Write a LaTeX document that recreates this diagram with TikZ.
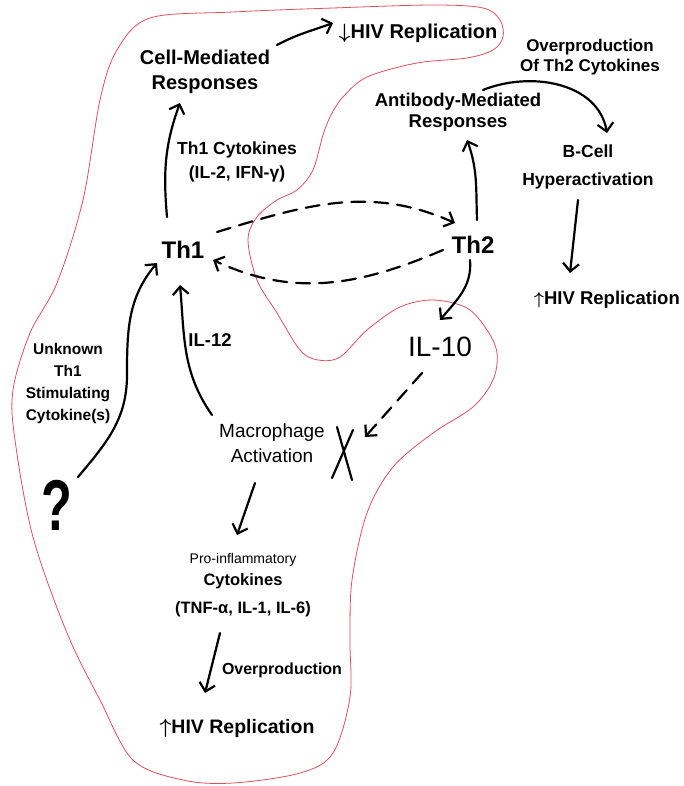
\documentclass[tikz,border=0pt]{standalone}
\usepackage{amsmath}
\usepackage{fontspec}
\setmainfont{Liberation Sans}
\usetikzlibrary{arrows.meta}
\definecolor{outline red}{RGB}{222,80,92}
\tikzstyle{arrow} = [line width=2.2pt,-{Straight Barb[length=8pt,width=16pt]},line cap=round]
\tikzstyle{dasharrow} = [arrow, dash pattern=on 14pt off 9pt]
\tikzstyle{stroke} = [line width=2.2pt,line cap=round]
\tikzstyle{txt} = [inner sep=0pt, align=center]
\newcommand{\up}{$\boldsymbol{\uparrow}$}
\newcommand{\down}{$\boldsymbol{\downarrow}$}

\begin{document}
\begin{tikzpicture}[x=1pt,y=1pt]
\useasboundingbox (0,0) rectangle (683,-786);

% red region
\draw [outline red, line width=0.8pt] plot [smooth cycle, tension=0.55] coordinates {
  (150,-18) (233,-12) (333,-8) (433,-5) (483,-8) (500,-20) (503,-37) (493,-50)
  (467,-58) (417,-63) (367,-77) (343,-97) (331,-115) (323,-135) (313,-170) (297,-190)
  (277,-200) (257,-217) (248,-240) (257,-280) (277,-313) (300,-350) (318,-360) (340,-357)
  (367,-330) (400,-307) (433,-300) (467,-308) (487,-330) (497,-353) (493,-380) (473,-407)
  (433,-433) (393,-467) (367,-513) (352,-580) (350,-640) (350,-697) (333,-753) (300,-773)
  (233,-783) (183,-780) (133,-760) (100,-700) (67,-633) (33,-537) (15,-440) (13,-390)
  (30,-333) (57,-283) (83,-200) (100,-100) (117,-50)};

\node (cell mediated) [txt, font=\bfseries\fontsize{20}{25}\selectfont] at (205,-72) {Cell-Mediated\\Responses};
\node (hiv down) [txt, font=\bfseries\fontsize{20}{24}\selectfont] at (418,-33) {\down HIV Replication};
\node (antibody) [txt, font=\bfseries\fontsize{18.5}{21}\selectfont] at (458,-112) {Antibody-Mediated\\Responses};
\node (overproduction th2) [txt, font=\bfseries\fontsize{17}{20}\selectfont] at (590,-57) {Overproduction\\Of Th2 Cytokines};
\node (b cell) [txt, font=\bfseries\fontsize{17.5}{28}\selectfont] at (588,-167) {B-Cell\\Hyperactivation};
\node (hiv up right) [txt, font=\bfseries\fontsize{18.5}{22}\selectfont] at (607,-300) {\up HIV Replication};
\node (th1 cytokines) [txt, font=\bfseries\fontsize{17.5}{24}\selectfont] at (237,-162) {Th1 Cytokines\\(IL-2, IFN-γ)};
\node (th1) [txt, font=\bfseries\fontsize{24}{28}\selectfont] at (183,-250) {Th1};
\node (th2) [txt, font=\bfseries\fontsize{24}{28}\selectfont] at (473,-245) {Th2};
\node (il10) [txt, font=\fontsize{28}{30}\selectfont] at (440,-347) {IL-10};
\node (il12) [txt, font=\bfseries\fontsize{18.5}{22}\selectfont] at (210,-340) {IL-12};
\node (unknown) [txt, font=\bfseries\fontsize{15.5}{22}\selectfont] at (68,-383) {Unknown\\Th1\\Stimulating\\Cytokine(s)};
\node (question) [txt, font=\bfseries\fontsize{72}{72}\selectfont] at (57,-505) {\scalebox{0.7}[1]{?}};
\node (macrophage) [txt, font=\fontsize{19}{25}\selectfont] at (272,-443) {Macrophage\\Activation};
\node (block) [minimum width=22pt, minimum height=54pt, inner sep=0pt] at (343,-453) {};
\node (pro inflammatory) [txt, font=\bfseries\fontsize{16.5}{22}\selectfont] at (243,-585) {{\mdseries\fontsize{14}{22}\selectfont Pro-inflammatory}\\Cytokines\\[6pt](TNF-α, IL-1, IL-6)};
\node (overproduction) [txt, font=\bfseries\fontsize{16}{20}\selectfont] at (282,-670) {Overproduction};
\node (hiv up) [txt, font=\bfseries\fontsize{19.5}{23}\selectfont] at (237,-728) {\up HIV Replication};

\draw [arrow] ([shift={(72,27)}]cell mediated.center) to[out=28, in=200] ([shift={(-85,10)}]hiv down.center);
\draw [arrow] ([shift={(-16,33)}]th1.center) to[out=95, in=250] ([shift={(-25,-31)}]cell mediated.center);
\draw [dasharrow] ([shift={(34,18)}]th1.center) to[out=17, in=156] ([shift={(-18,22)}]th2.center);
\draw [dasharrow] ([shift={(-30,-5)}]th2.center) to[out=203, in=-25] ([shift={(30,-10)}]th1.center);
\draw [arrow] ([shift={(4,25)}]th2.center) to[out=92, in=-70] ([shift={(9,-28)}]antibody.center);
\draw [arrow] ([shift={(25,22)}]antibody.center) to[out=22, in=100] ([shift={(19,34)}]b cell.center);
\draw [arrow] ([shift={(-10,-33)}]b cell.center) -- ([shift={(-37,27)}]hiv up right.center);
\draw [arrow] ([shift={(-3,-15)}]th2.center) to[out=-85, in=50] ([shift={(0,27)}]il10.center);
\draw [dasharrow] ([shift={(-18,-26)}]il10.center) -- ([shift={(22,16)}]block.center);
\draw [arrow] ([shift={(-60,28)}]macrophage.center) to[out=125, in=-85] ([shift={(-3,-35)}]th1.center);
\draw [arrow] ([shift={(21,28)}]question.center) to[out=50, in=-90] (127,-375) to[out=90, in=-130] ([shift={(-26,-13)}]th1.center);
\draw [arrow] ([shift={(-17,-40)}]macrophage.center) -- ([shift={(-6,50)}]pro inflammatory.center);
\draw [arrow] ([shift={(-23,-48)}]pro inflammatory.center) -- ([shift={(-32,35)}]hiv up.center);

% the block on macrophage activation
\draw [stroke] ([shift={(-6,26)}]block.center) -- ([shift={(9,-27)}]block.center);
\draw [stroke] ([shift={(10,23)}]block.center) -- ([shift={(-11,-25)}]block.center);

\end{tikzpicture}
\end{document}
